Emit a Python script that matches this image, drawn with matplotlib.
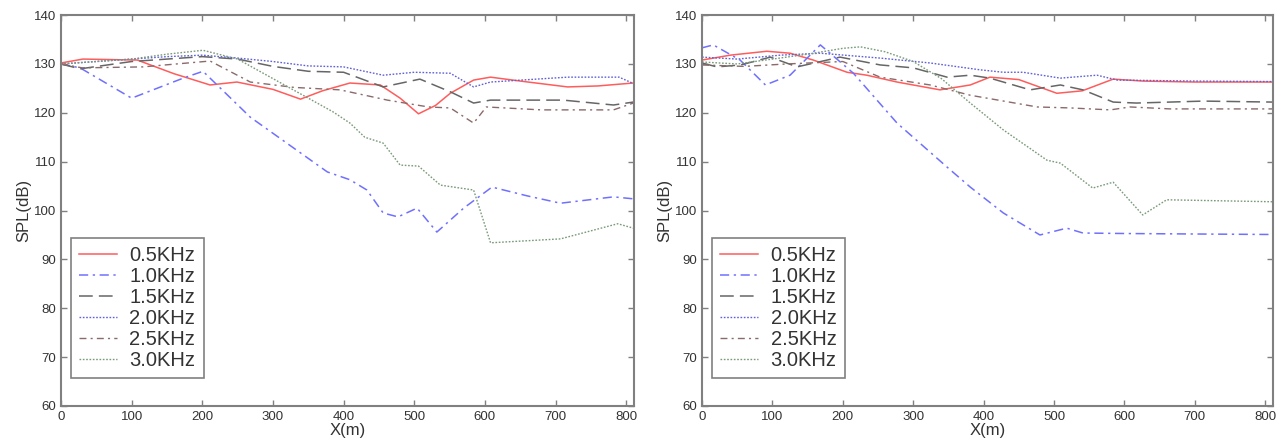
import matplotlib
matplotlib.use("Agg")
import matplotlib.pyplot as plt

plt.rcParams['font.family'] = ['Liberation Sans', 'DejaVu Sans']

labels = ["0.5KHz", "1.0KHz", "1.5KHz", "2.0KHz", "2.5KHz", "3.0KHz"]

# left panel
l_x05 = [0, 31, 108, 160, 211, 249, 300, 339, 370, 409, 452, 480, 506, 530, 551, 584, 608, 650, 717, 760, 810]
l_y05 = [130.2, 131, 130.8, 128, 125.7, 126.3, 124.8, 122.8, 124.5, 126.1, 125.7, 123, 119.8, 121.5, 124, 126.7, 127.3, 126.5, 125.3, 125.5, 126.1]
l_x10 = [0, 27, 100, 173, 201, 268, 339, 377, 409, 433, 456, 477, 504, 532, 570, 610, 660, 707, 782, 810]
l_y10 = [130, 129.2, 123, 127.1, 128.5, 119.1, 111.8, 107.9, 106.3, 104.2, 99.5, 98.7, 100.5, 95.6, 100.5, 104.8, 103, 101.5, 102.8, 102.4]
l_x15 = [0, 27, 100, 200, 250, 300, 350, 400, 456, 508, 551, 584, 608, 711, 782, 810]
l_y15 = [130, 129, 130.5, 131.5, 131, 129.5, 128.5, 128.3, 125.3, 126.9, 124.3, 122, 122.6, 122.6, 121.6, 122.2]
l_x20 = [0, 50, 100, 150, 200, 250, 300, 350, 400, 456, 500, 551, 584, 608, 717, 790, 810]
l_y20 = [130, 130.5, 131, 131.5, 131.8, 131.2, 130.5, 129.6, 129.4, 127.7, 128.3, 128.1, 125.3, 126.3, 127.3, 127.3, 126]
l_x25 = [0, 30, 116, 211, 268, 330, 395, 462, 520, 551, 584, 602, 680, 782, 810]
l_y25 = [130, 129.2, 129.4, 130.6, 126.3, 125.2, 124.7, 122.6, 121.2, 121, 117.9, 121.2, 120.6, 120.6, 122]
l_x30 = [0, 50, 100, 150, 201, 250, 300, 350, 385, 409, 430, 456, 480, 506, 537, 584, 608, 707, 788, 810]
l_y30 = [130, 130.5, 131, 132, 132.8, 131, 127, 123, 120.2, 117.9, 115, 113.8, 109.3, 109.1, 105.2, 104.2, 93.4, 94.2, 97.3, 96.4]

# right panel
r_x05 = [0, 40, 92, 125, 158, 206, 234, 277, 338, 381, 409, 450, 504, 540, 584, 626, 700, 810]
r_y05 = [130.8, 131.8, 132.6, 132.2, 130.8, 128.3, 127.7, 126.3, 124.7, 125.7, 127.3, 126.8, 124, 124.5, 126.9, 126.5, 126.3, 126.3]
r_x10 = [0, 16, 54, 90, 125, 168, 215, 277, 348, 381, 428, 480, 518, 541, 600, 700, 810]
r_y10 = [133.3, 133.9, 130.8, 125.7, 127.7, 133.9, 128.1, 117.9, 108.9, 104.8, 99.5, 95, 96.4, 95.4, 95.3, 95.2, 95.1]
r_x15 = [0, 21, 55, 97, 135, 196, 253, 300, 348, 381, 409, 466, 509, 541, 584, 617, 712, 810]
r_y15 = [130.2, 129.4, 129.8, 131.4, 129.4, 131.4, 129.8, 129.2, 127.3, 127.7, 127.1, 124.7, 125.7, 124.7, 122.2, 122, 122.4, 122.2]
r_x20 = [0, 50, 111, 168, 253, 324, 395, 428, 456, 509, 561, 590, 700, 810]
r_y20 = [131.4, 131, 131.8, 132.2, 131.2, 130.2, 128.8, 128.3, 128.3, 127.1, 127.7, 126.7, 126.5, 126.4]
r_x25 = [0, 60, 120, 200, 253, 324, 381, 476, 523, 580, 608, 665, 810]
r_y25 = [129.8, 129.5, 130, 130.5, 127.3, 125.7, 123.6, 121.2, 121, 120.6, 121.2, 120.8, 120.8]
r_x30 = [0, 50, 100, 150, 200, 225, 260, 300, 340, 381, 428, 490, 509, 555, 584, 626, 660, 810]
r_y30 = [130.4, 130, 131, 132, 133.2, 133.5, 132.5, 130.5, 127, 122, 116.5, 110.3, 109.7, 104.6, 105.8, 99.1, 102.2, 101.8]

styles = [
    dict(color="#ff5c5c", ls="-", lw=1.1),
    dict(color="#7070ff", ls=(0, (6, 3, 1.5, 3)), lw=1.1),
    dict(color="#666666", ls=(0, (9, 4)), lw=1.1),
    dict(color="#6060d8", ls=(0, (1.2, 1.2)), lw=1.0),
    dict(color="#8a6a6a", ls=(0, (5, 3, 1.5, 3)), lw=1.0),
    dict(color="#7a9a7a", ls=(0, (1.2, 1.2)), lw=1.0),
]

left = [(l_x05, l_y05), (l_x10, l_y10), (l_x15, l_y15), (l_x20, l_y20), (l_x25, l_y25), (l_x30, l_y30)]
right = [(r_x05, r_y05), (r_x10, r_y10), (r_x15, r_y15), (r_x20, r_y20), (r_x25, r_y25), (r_x30, r_y30)]

fig = plt.figure(figsize=(12.87, 4.44), dpi=100)
ax1 = fig.add_axes([0.0474, 0.0856, 0.4452, 0.8804])
ax2 = fig.add_axes([0.5455, 0.0856, 0.4436, 0.8804])

for ax, series in [(ax1, left), (ax2, right)]:
    for (x, y), st, lab in zip(series, styles, labels):
        ax.plot(x, y, label=lab, **st)
    ax.set_xlim(0, 811)
    ax.set_ylim(60, 140)
    ax.set_xticks(range(0, 801, 100))
    ax.set_yticks(range(60, 141, 10))
    ax.tick_params(direction="in", length=4, width=1, colors="#808080",
                   labelcolor="#333333", labelsize=9.5, top=True, right=True)
    for sp in ax.spines.values():
        sp.set_color("#808080")
        sp.set_linewidth(1.5)
    ax.set_xlabel("X(m)", fontsize=12, color="#333333", labelpad=0)
    ax.set_ylabel("SPL(dB)", fontsize=12, color="#333333", labelpad=2)
    leg = ax.legend(loc="lower left", bbox_to_anchor=(0.0, 0.045), fontsize=14.5,
                    handlelength=1.9, handletextpad=0.6, labelspacing=0.1,
                    borderpad=0.4, fancybox=False, framealpha=1, edgecolor="#808080")
    leg.get_frame().set_linewidth(1.2)
    for t in leg.get_texts():
        t.set_color("#333333")

fig.savefig("out.png", dpi=100)
